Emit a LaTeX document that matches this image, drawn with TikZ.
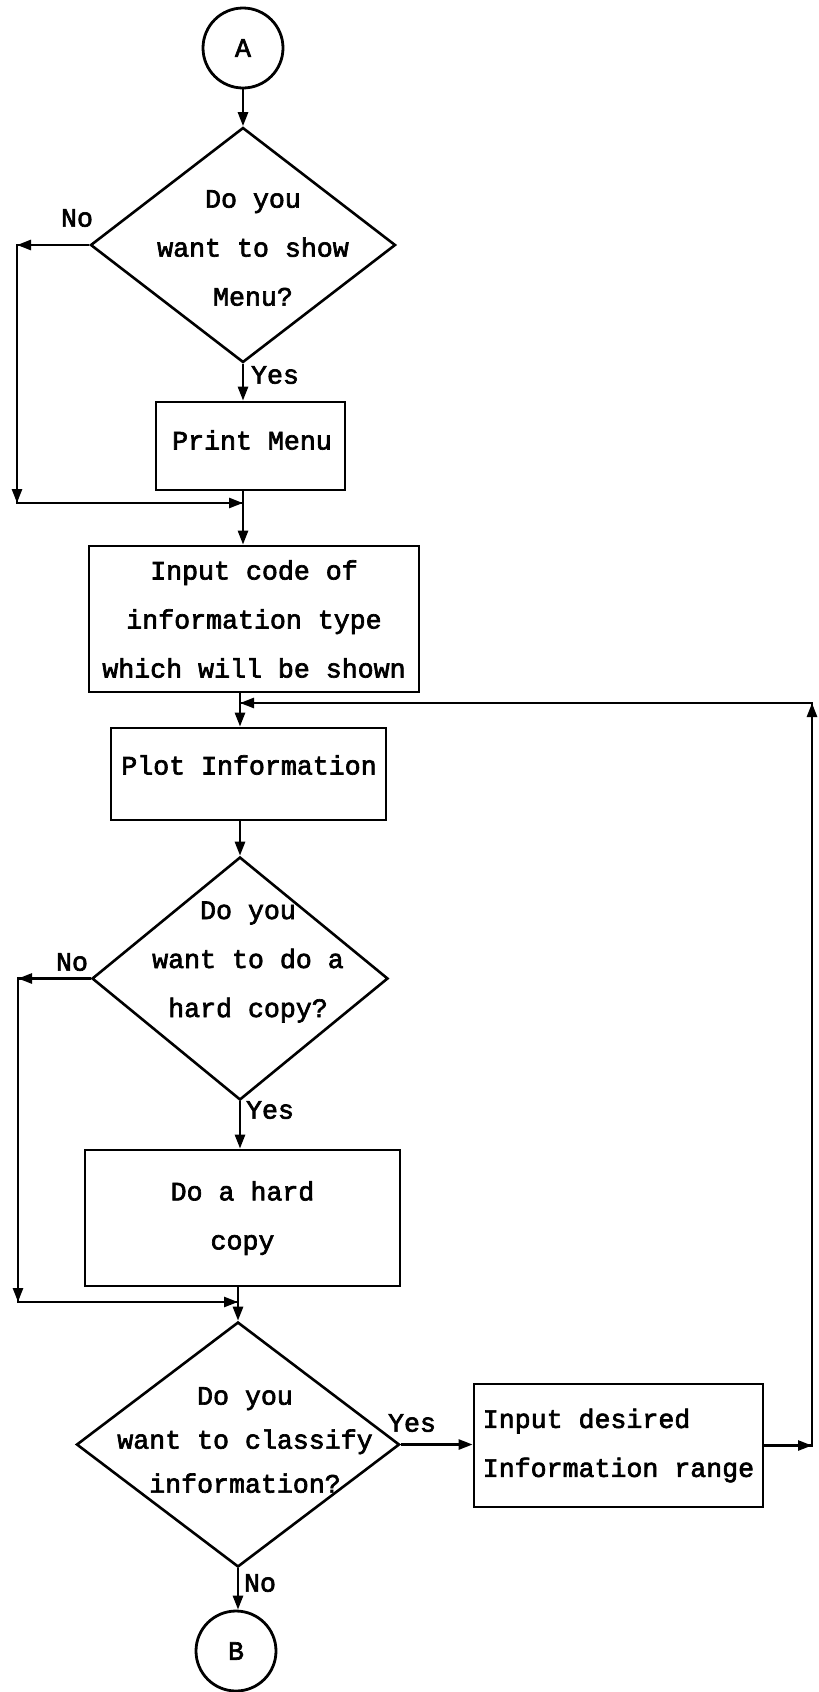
\documentclass[tikz,border=0pt]{standalone}
\usepackage{fontspec}
\setmainfont{Liberation Mono}[FakeBold=2.5]
\usetikzlibrary{shapes.geometric,arrows.meta}
\begin{document}
\begin{tikzpicture}[x=0.5pt,y=-0.5pt,
  every node/.style={font=\fontsize{13.3}{24.5}\selectfont},
  line/.style={line width=1.3pt,line join=miter},
  arr/.style={line width=1.3pt,-{Triangle[length=7pt,width=5pt]}},
  boxnode/.style={draw,line width=1.4pt,rectangle,inner sep=0pt},
  dia/.style={draw,line width=1.3pt,diamond,inner sep=0pt},
  conn/.style={draw,line width=1.4pt,circle,inner sep=0pt,minimum size=40pt},
  txt/.style={align=center,inner sep=0pt},
  lbl/.style={inner sep=0pt}]
\useasboundingbox (0,0) rectangle (819,1692);

% shapes
\node[conn] (A) at (243,48) {A};
\node[dia,minimum width=152.5pt,minimum height=117.5pt] (d1) at (243,245) {};
\node[txt] (t1) at (253,248) {Do you\\want to show\\Menu?};
\node[boxnode,minimum width=94.5pt,minimum height=44pt] (pm) at (250.5,446) {};
\node[txt] (tpm) at (252,440) {Print Menu};
\node[boxnode,minimum width=165pt,minimum height=73pt,align=center] (in) at (254,619) {Input code of\\information type\\which will be shown};
\node[boxnode,minimum width=137.5pt,minimum height=46pt] (plot) at (248.5,774) {};
\node[txt] (tplot) at (249,765) {Plot Information};
\node[dia,minimum width=148pt,minimum height=121.5pt] (d2) at (240,978.5) {};
\node[txt] (t2) at (248,962) {Do you\\want to do a\\hard copy?};
\node[boxnode,minimum width=157.5pt,minimum height=68pt,align=center] (hc) at (242.5,1218) {Do a hard\\copy};
\node[dia,minimum width=161.5pt,minimum height=122.5pt] (d3) at (238,1444.5) {};
\node[txt,font=\fontsize{13.3}{22}\selectfont] (t3) at (245,1440) {Do you\\want to classify\\information?};
\node[boxnode,minimum width=144.5pt,minimum height=61.5pt,align=left] (idr) at (618.5,1445.5) {Input desired\\Information range};
\node[conn] (B) at (236,1651) {B};

% labels
\node[lbl] (n1) at (77,218) {No};
\node[lbl] (y1) at (275,375) {Yes};
\node[lbl] (n2) at (72,962) {No};
\node[lbl] (y2) at (270,1110) {Yes};
\node[lbl] (y3) at (412,1423) {Yes};
\node[lbl] (n3) at (260,1583) {No};

% helper coordinates
\coordinate (c1) at (17,245);
\coordinate (c2) at (17,503);
\coordinate (j1) at (243,503);
\coordinate (c3) at (18,978.5);
\coordinate (c4) at (18,1302);
\coordinate (j3) at (238,1302);
\coordinate (c5) at (812,1445.5);
\coordinate (c6) at (812,703);
\coordinate (j2) at (240,703);

% main flow
\draw[arr] (A.south) -- (d1.north);
\draw[arr] (d1.south) -- (d1.south |- pm.north);
\draw[arr] (pm.south -| d1.south) -- (in.north -| d1.south);
\draw[arr] (in.south -| d2.north) -- (plot.north -| d2.north);
\draw[arr] (plot.south -| d2.north) -- (d2.north);
\draw[arr] (d2.south) -- (d2.south |- hc.north);
\draw[arr] (hc.south -| d3.north) -- (d3.north);
\draw[arr] (d3.east) -- (d3.east -| idr.west);
\draw[arr] (d3.south) -- (d3.south |- B.north);

% No branch 1
\draw[line] (d1.west) -- (c1) -- (c2) -- (j1);
\draw[arr] (d1.west) -- (c1);
\draw[arr] (c1) -- (c2);
\draw[arr] (c2) -- (j1);

% No branch 2
\draw[line] (d2.west) -- (c3) -- (c4) -- (j3);
\draw[arr] (d2.west) -- (c3);
\draw[arr] (c3) -- (c4);
\draw[arr] (c4) -- (j3);

% loop back
\draw[line] (idr.east) -- (c5) -- (c6) -- (j2);
\draw[arr] (idr.east) -- (c5);
\draw[arr] (c5) -- (c6);
\draw[arr] (c6) -- (j2);
\end{tikzpicture}
\end{document}
